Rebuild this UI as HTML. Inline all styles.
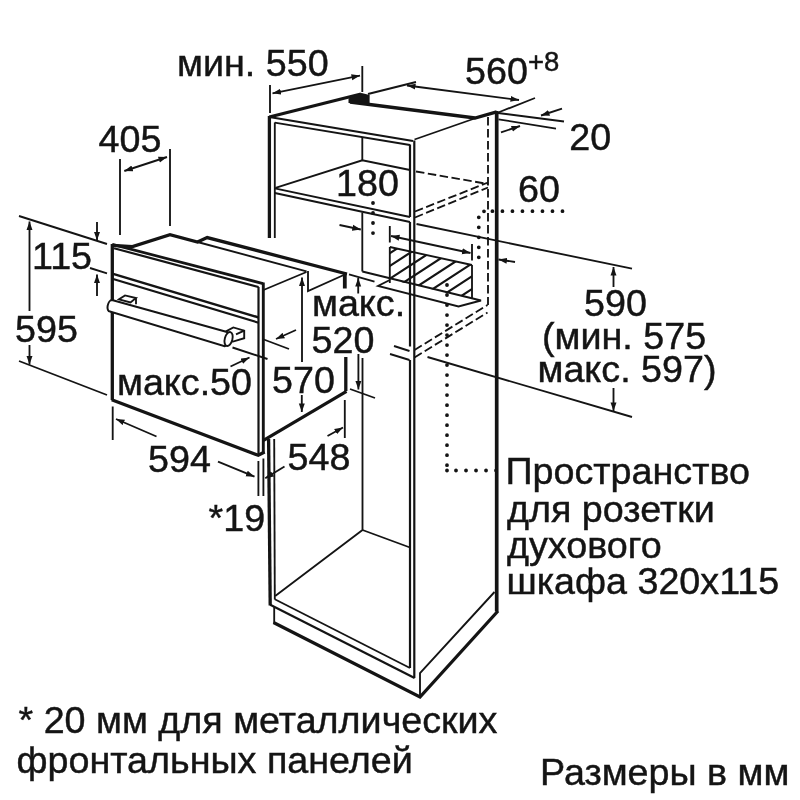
<!DOCTYPE html>
<html lang="ru"><head><meta charset="utf-8"><title>Размеры в мм</title>
<style>
html,body{margin:0;padding:0;background:#fff;width:800px;height:800px;overflow:hidden}
svg{display:block;will-change:transform}
text{font-family:"Liberation Sans",sans-serif;font-size:37.7px;fill:#141414;stroke:#141414;stroke-width:0.45px}
.n{stroke:#141414;stroke-width:1.85;fill:none;stroke-linecap:butt}
.m{stroke:#141414;stroke-width:2.2;fill:none}
.k{stroke:#141414;stroke-width:3.3;fill:none;stroke-linejoin:miter}
.d{stroke:#141414;stroke-width:1.85;fill:none;stroke-dasharray:8.5 3.5}
.o{stroke:#141414;stroke-width:3.8;fill:none;stroke-dasharray:0.01 10;stroke-linecap:round}
.a{fill:#141414;stroke:none}
</style></head><body>
<svg width="800" height="800" viewBox="0 0 800 800">
<defs>
<marker id="ah" viewBox="0 0 10 8" refX="10" refY="4" markerWidth="8.6" markerHeight="6.8" markerUnits="userSpaceOnUse" orient="auto-start-reverse"><path d="M0,0.5 L10,4 L0,7.5 Z" fill="#141414"/></marker>
<clipPath id="hc"><polygon points="389.8,247 472,265 472,298.5 389.8,279.5"/></clipPath>
</defs>
<rect x="0" y="0" width="800" height="800" fill="#fff"/>

<!-- ===== CABINET ===== -->
<g id="cabinet">
<!-- top -->
<path class="k" d="M269.3,117 L361,94"/>
<polygon class="a" points="348.5,98.6 361.5,93 369.6,95 369.6,103.2 348.5,102.9"/>
<path class="k" d="M350,102 L475,118 L496.7,111.8"/>
<path class="n" d="M414.5,139.5 L476,118"/>
<path class="m" d="M269.3,117 L413,141"/>
<path class="n" d="M274.7,122.7 L410,145"/>
<!-- left front verticals -->
<path class="k" d="M269.4,116 V238"/>
<path class="n" d="M274.8,122.5 V238"/>
<path class="k" d="M268.6,439 L270.2,605.5"/>
<path class="n" d="M274.2,439 L274.8,599.5"/>
<!-- right front verticals -->
<path class="m" d="M410,144.5 V217 M410,222 V346.5 M410,360 V668"/>
<path class="m" d="M414.3,140.5 V678"/>
<!-- back right -->
<path class="k" style="stroke-width:3.7" d="M496.7,111 V611.5"/>
<path class="d" d="M488,117 V305"/>
<!-- upper shelf -->
<path class="n" d="M274.8,188.3 L410,217"/>
<path class="n" d="M274.8,193 L410,222"/>
<path class="n" d="M275.5,187.8 L362.3,160.3 L410,170"/>
<path class="n" d="M362.3,137.3 V160.3"/>
<path class="d" d="M416,171.5 L488,184"/>
<path class="d" d="M415,211.5 L488,182.5"/>
<path class="d" d="M415,217.5 L488,187.5"/>
<!-- inner panel (180) -->
<path class="n" d="M362.3,212.5 V271.5"/>
<!-- lower shelf front stubs -->
<path class="n" d="M394,346 L409.5,351"/>
<path class="n" d="M390,354 L409.5,360"/>
<path class="d" d="M414.5,350 L487.5,305"/>
<path class="d" d="M414.5,357.5 L487.5,312.5"/>
<!-- bottom interior -->
<path class="n" d="M362.5,358 V530 L275.2,596"/>
<path class="n" d="M362.5,530 L410,547.5"/>
<!-- bottom front edges -->
<path class="n" d="M274.8,599.3 L410,668"/>
<path class="m" d="M270.2,604.8 L414.6,678"/>
<!-- plinth -->
<path class="n" d="M274.2,607 V623"/>
<path class="k" d="M273.5,622.5 L420,697 L498,611"/>
<path class="n" d="M420,697 V673 L494.5,592"/>
</g>

<!-- ===== SOCKET SPACE ===== -->
<g id="socket">
<g clip-path="url(#hc)" class="m">
<path d="M385,256.4 L476,197.2 M385,269.1 L476,209.9 M385,281.9 L476,222.7 M385,294.6 L476,235.4 M385,307.4 L476,248.2 M385,320.1 L476,260.9 M385,332.9 L476,273.7 M385,345.6 L476,286.4"/>
</g>
<path class="n" d="M389.8,226 V242.5 M389.8,247 V283"/>
<path class="n" d="M389.8,247 L472,265"/>
<path class="n" d="M472,244 V260.5 M472,265 V299"/>
<!-- small shelf -->
<path class="n" d="M362.3,271.5 L481,300.5 L458.5,306.5 L378,286 L389.8,280"/>
</g>

<!-- ===== OVEN ===== -->
<g id="oven">
<!-- top -->
<path class="k" d="M112.3,245.3 L132.5,246.6 L170,234.6 L197.5,242 L207.2,237.6 L347,274"/>
<path class="n" d="M197.5,242 L306.5,271.3"/>
<path class="n" d="M308,271 V291 L346,274"/>
<path class="n" d="M263.5,290 L306.5,272"/>
<!-- front face -->
<path class="k" style="stroke-width:2.7" d="M112.3,244.4 L263.1,283.6"/>
<path class="m" d="M114,248.2 L258.6,287"/>
<path class="k" d="M112.3,244 V400"/>
<path class="m" style="stroke-width:2.4" d="M112.3,273.6 L258.6,317.5"/>
<path class="m" d="M112.3,278.8 L258.6,322.7"/>
<path class="m" d="M258.5,287 V455"/>
<path class="k" style="stroke-width:2.9" d="M263.3,282.5 V453"/>
<path class="k" d="M111.7,399.7 L258.3,455.3 L264.6,452"/>
<path class="k" d="M263.5,440.3 L346.5,391.3"/>
<path class="k" style="stroke-width:3.8" d="M344.8,273 V288.5"/>
<path class="k" d="M345.8,357 V391"/>
<path class="n" d="M349,274.3 L374.5,281.6"/>
<!-- handle -->
<path class="n" d="M119,299.3 L125,295.4 L136,298 L130.5,302.4 Z M136,298 V304.3" fill="#fff"/>
<path d="M226.5,331.2 L233.3,327.4 L244.2,330.6 L244.2,338.2 L233,341.6 L229,340.4 Z" fill="#fff" stroke="#141414" stroke-width="1.9"/>
<path class="n" d="M244.2,330.6 L236,334.4"/>
<path d="M112,300 L227,332 A4.2,7.4 15 0 1 224.6,346.2 L110,311.6 A3.2,5.8 15 0 1 112,300 Z" fill="#fff" stroke="#141414" stroke-width="2"/>
<ellipse cx="228.600" cy="339" rx="3.8" ry="7.2" transform="rotate(15 228.600 339)" fill="#fff" stroke="#141414" stroke-width="1.9"/>
</g>

<!-- ===== DOTTED LEADERS ===== -->
<g id="dots">
<path class="o" d="M373,203 V234"/>
<path class="o" d="M447,285 V466 M447,470.5 h0.01 M456,470.5 H497"/>
<path class="o" d="M562.5,211.2 H492 M484,211.3 h0.01 M478.8,217.3 V258"/>
</g>

<!-- ===== DIMENSIONS ===== -->
<g id="dims" class="n">
<!-- 550 -->
<path d="M270,85 V113 M362.3,66 V92"/>
<path d="M272.5,93.3 L360,75.6" marker-start="url(#ah)" marker-end="url(#ah)"/>
<!-- 560 -->
<path d="M368,94 L416,82"/>
<path d="M497,113 L535,98"/>
<path d="M407,85.5 L519,100" marker-start="url(#ah)" marker-end="url(#ah)"/>
<!-- 20 -->
<path d="M498,113 L564,121.5 M498.5,119.3 L556,128.6"/>
<path d="M562,108.7 L541,115.5" marker-end="url(#ah)"/>
<path d="M501,132.4 L520,126" marker-end="url(#ah)"/>
<!-- 405 -->
<path d="M120,159 V235 M170,149 V226"/>
<path d="M124.3,171 L167,157" marker-start="url(#ah)" marker-end="url(#ah)"/>
<!-- 595 / 115 -->
<path d="M19,216 L107,244"/>
<path d="M19,361 L107,395"/>
<path d="M29.5,221.5 V311" marker-start="url(#ah)"/>
<path d="M29.5,345 V364.5" marker-end="url(#ah)"/>
<path d="M97,222 V240.5" marker-end="url(#ah)"/>
<path d="M90,268 L107,273.3"/>
<path d="M97,296 V274.5" marker-end="url(#ah)"/>
<!-- max 50 -->
<path d="M232.5,347.5 L267.5,359"/>
<path d="M230.5,366.5 L249.5,357.5" marker-end="url(#ah)"/>
<path d="M262.5,339 L289,349"/>
<path d="M296,330 L276,339" marker-end="url(#ah)"/>
<!-- 570 -->
<path d="M302,277.5 V362" marker-start="url(#ah)"/>
<path d="M301.8,395 V412" marker-end="url(#ah)"/>
<!-- 520 -->
<path d="M350,389 L375,398"/>
<path d="M358.2,293.5 V278" marker-end="url(#ah)"/>
<path d="M358.4,354 V389.5" marker-end="url(#ah)"/>
<!-- 594 -->
<path d="M112.7,406.5 V440"/>
<path d="M156.5,436.5 L116,419" marker-end="url(#ah)"/>
<path d="M218,461.7 L254.5,476.7" marker-end="url(#ah)"/>
<path d="M258.4,461 V496 M263.4,458.5 V496"/>
<path d="M284.5,466.5 L265.3,478.3" marker-end="url(#ah)"/>
<!-- 548 -->
<path d="M344.8,400 V438"/>
<path d="M327.5,436 L343,427.5" marker-end="url(#ah)"/>
<!-- 180 / 320 -->
<path d="M339.5,225 L360.8,229.5" marker-end="url(#ah)"/>
<path d="M391,236 L470.5,253" marker-start="url(#ah)" marker-end="url(#ah)"/>
<!-- 60 -->
<path d="M515,262 L498.5,259.5" marker-end="url(#ah)"/>
<!-- 590 -->
<path d="M416.5,224 L632,268.7"/>
<path d="M427.5,357 L632,417"/>
<path d="M613.5,287 V267" marker-end="url(#ah)"/>
<path d="M613.5,388 V411" marker-end="url(#ah)"/>
</g>

<!-- ===== TEXT ===== -->
<g id="labels">
<text x="177" y="76">мин. 550</text>
<text x="465" y="84">560<tspan font-size="27.5" dy="-13">+8</tspan></text>
<text x="569.3" y="149.6">20</text>
<text x="98.5" y="151.5">405</text>
<text x="336" y="196.1">180</text>
<text x="518" y="202">60</text>
<text x="32" y="268.5">115</text>
<text x="15" y="342">595</text>
<text x="117" y="395">макс.50</text>
<text x="272" y="393">570</text>
<text x="312" y="316">макс.</text>
<text x="311.5" y="353">520</text>
<text x="148" y="472">594</text>
<text x="287.5" y="469.5">548</text>
<text x="208.5" y="531">*19</text>
<text x="584" y="316">590</text>
<text x="542" y="348.5">(мин. 575</text>
<text x="537.5" y="382">макс. 597)</text>
<text x="505.5" y="483.5">Пространство</text>
<text x="507" y="522">для розетки</text>
<text x="507" y="557.5">духового</text>
<text x="506.5" y="594">шкафа 320x115</text>
<text x="540" y="785">Размеры в мм</text>
<text x="18.5" y="732.5">* 20 мм для металлических</text>
<text x="16.5" y="772.5">фронтальных панелей</text>
</g>
</svg>
</body></html>
